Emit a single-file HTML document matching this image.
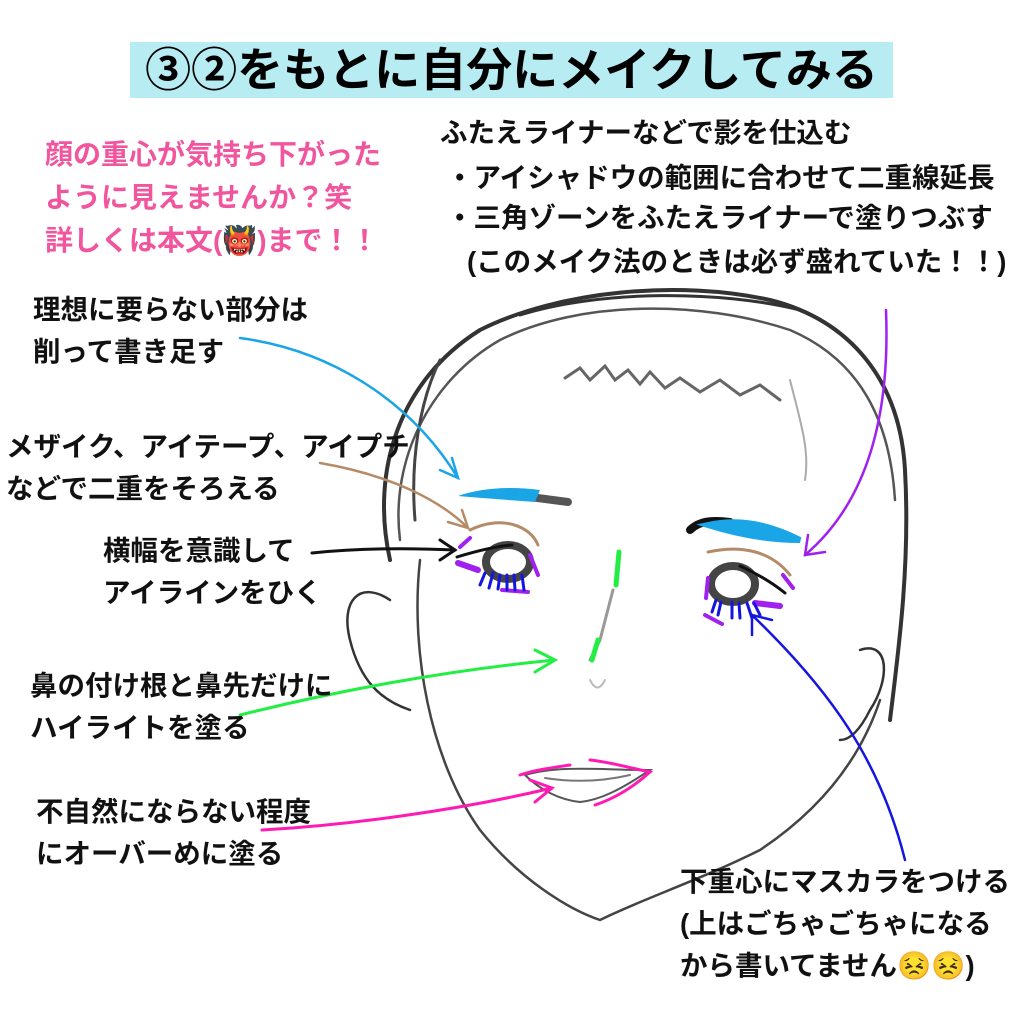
<!DOCTYPE html>
<html><head><meta charset="utf-8"><style>
html,body{margin:0;padding:0;background:#fff;}
body{width:1024px;height:1024px;position:relative;overflow:hidden;font-family:"Liberation Sans","Noto Sans CJK JP",sans-serif;font-weight:bold;}
.t{position:absolute;white-space:nowrap;color:#111;font-size:27.5px;line-height:42px;}
.title{position:absolute;left:130px;top:42px;width:763px;height:56px;background:#b6ecf2;font-size:46px;line-height:56px;text-align:center;color:#000;}
.pink{color:#f0559e;font-size:28px;line-height:43px;}
svg{position:absolute;left:0;top:0;}
</style></head><body>
<svg width="1024" height="1024" viewBox="0 0 1024 1024">
<g fill="none" stroke="#333" stroke-linecap="round">
<path d="M390 560 C370 470 400 380 480 330 C560 290 680 280 770 300 C850 320 900 380 905 470 C910 560 900 640 890 720" stroke-width="4"/>
<path d="M400 540 C390 460 430 380 500 340 C580 300 700 300 790 330 C860 360 890 420 895 500" stroke-width="2.5" stroke="#555"/>
<path d="M520 315 C600 290 720 290 800 310" stroke-width="3"/>
<path d="M440 360 C420 400 410 460 415 520" stroke-width="3" stroke="#444"/>
<path d="M420 560 C410 650 430 760 480 830 C520 880 570 910 600 920 C640 900 700 880 760 850 C820 810 860 760 880 700" stroke-width="2.5" stroke="#444"/>
<path d="M390 600 C360 580 340 600 350 640 C360 680 380 700 410 710" stroke-width="2.5"/>
<path d="M860 650 C890 640 890 680 870 710 C860 730 850 740 840 740" stroke-width="2.5"/>
<path d="M565 378 L580 368 L590 380 L605 366 L615 380 L628 370 L640 384 L650 372 L665 388 L680 378 L700 392 L720 380 L740 395 L760 385 L780 400" stroke-width="3" stroke="#666"/>
<path d="M790 380 C800 420 810 450 805 480" stroke-width="2" stroke="#aaa"/>
<path d="M613 590 L600 640 L590 660" stroke-width="3" stroke="#999"/>
<path d="M590 680 C595 690 600 690 605 680" stroke-width="2" stroke="#bbb"/>
<ellipse cx="508" cy="562" rx="22" ry="17" stroke-width="8" stroke="#444"/>
<ellipse cx="733" cy="584" rx="22" ry="18" stroke-width="8" stroke="#444"/>
<path d="M525 775 C560 765 600 770 650 770 C620 790 600 800 580 802 C560 800 540 790 525 775" stroke-width="2" stroke="#555"/>
<path d="M545 778 C570 782 600 782 630 775" stroke-width="2" stroke="#777"/>
<path d="M530 497 L568 502" stroke-width="8" stroke="#555"/>
<path d="M690 530 C700 520 715 520 730 522" stroke-width="8" stroke="#111"/>
</g>
<path d="M458 496 C480 488 510 486 540 490 L535 502 C510 500 480 498 458 496Z" fill="#1aa5e6"/>
<path d="M708 525 C740 518 770 525 800 540 C770 540 740 535 708 525Z" fill="#1aa5e6" stroke="#1aa5e6" stroke-width="6"/>
<g fill="none" stroke-linecap="round">
<path d="M470 530 C500 515 530 525 538 545" stroke="#b58b67" stroke-width="3"/>
<path d="M708 552 C740 545 770 550 790 575" stroke="#b58b67" stroke-width="3"/>
<path d="M457 557 C480 550 500 546 512 545" stroke="#111" stroke-width="3"/>
<path d="M740 566 C760 575 775 585 785 593" stroke="#111" stroke-width="3"/>
<path d="M460 547 L470 538" stroke="#a020f0" stroke-width="4"/>
<path d="M458 563 L478 570" stroke="#a020f0" stroke-width="6"/>
<path d="M530 555 L538 575" stroke="#a020f0" stroke-width="4"/>
<path d="M502 590 L528 592" stroke="#a020f0" stroke-width="4"/>
<path d="M708 578 L706 598" stroke="#a020f0" stroke-width="4"/>
<path d="M783 575 L793 588" stroke="#a020f0" stroke-width="4"/>
<path d="M755 603 L780 606" stroke="#a020f0" stroke-width="6"/>
<path d="M705 615 L722 624" stroke="#a020f0" stroke-width="4"/>
<g stroke="#1515e0" stroke-width="3">
<path d="M485 573 L480 585"/><path d="M493 573 L489 588"/><path d="M500 575 L498 589"/><path d="M507 575 L507 590"/><path d="M514 575 L515 590"/><path d="M522 575 L524 590"/>
<path d="M716 600 L712 612"/><path d="M721 602 L718 615"/><path d="M732 602 L732 618"/><path d="M739 603 L740 618"/><path d="M747 603 L752 618"/><path d="M754 603 L760 615"/>
</g>
<path d="M619 552 L616 585" stroke="#22ee44" stroke-width="5"/>
<path d="M598 640 L592 660" stroke="#22ee44" stroke-width="5"/>
<path d="M520 775 C535 770 550 768 570 765" stroke="#ff1ab3" stroke-width="3"/>
<path d="M590 760 C610 762 630 768 650 772 C630 790 610 800 595 805" stroke="#ff1ab3" stroke-width="3"/>
<path d="M240 338 C330 350 410 400 458 478" stroke="#1aa5e6" stroke-width="2.5"/>
<path d="M440 470 L458 478 L452 458" stroke="#1aa5e6" stroke-width="2.5"/>
<path d="M320 463 C390 475 440 500 468 528" stroke="#b58b67" stroke-width="2.5"/>
<path d="M448 522 L468 528 L462 510" stroke="#b58b67" stroke-width="2.5"/>
<path d="M312 553 C360 548 410 548 455 550" stroke="#111" stroke-width="3"/>
<path d="M440 540 L455 550 L440 560" stroke="#111" stroke-width="3"/>
<path d="M240 715 C340 690 450 670 555 660" stroke="#22ee44" stroke-width="3"/>
<path d="M535 650 L555 660 L535 672" stroke="#22ee44" stroke-width="3"/>
<path d="M262 830 C350 825 460 810 552 788" stroke="#ff1ab3" stroke-width="3"/>
<path d="M530 780 L552 788 L535 802" stroke="#ff1ab3" stroke-width="3"/>
<path d="M886 310 C890 410 870 500 805 555" stroke="#a020f0" stroke-width="2.5"/>
<path d="M808 535 L805 555 L825 552" stroke="#a020f0" stroke-width="2.5"/>
<path d="M905 860 C880 760 830 690 752 615" stroke="#1515e0" stroke-width="2.5"/>
<path d="M752 635 L752 615 L772 620" stroke="#1515e0" stroke-width="2.5"/>
</g>
</svg>
<div class="title">③②をもとに自分にメイクしてみる</div>
<div class="t pink" style="left:45px;top:133px;">顔の重心が気持ち下がった<br>ように見えませんか？笑<br>詳しくは本文(👹)まで！！</div>
<div class="t" style="left:440px;top:112px;">ふたえライナーなどで影を仕込む</div>
<div class="t" style="left:446px;top:157px;">・アイシャドウの範囲に合わせて二重線延長</div>
<div class="t" style="left:446px;top:197px;">・三角ゾーンをふたえライナーで塗りつぶす</div>
<div class="t" style="left:467px;top:241px;">(このメイク法のときは必ず盛れていた！！)</div>
<div class="t" style="left:33px;top:289px;">理想に要らない部分は<br>削って書き足す</div>
<div class="t" style="left:6px;top:426px;">メザイク、アイテープ、アイプチ<br>などで二重をそろえる</div>
<div class="t" style="left:103px;top:530px;">横幅を意識して<br>アイラインをひく</div>
<div class="t" style="left:30px;top:665px;">鼻の付け根と鼻先だけに<br>ハイライトを塗る</div>
<div class="t" style="left:36px;top:791px;">不自然にならない程度<br>にオーバーめに塗る</div>
<div class="t" style="left:680px;top:861px;">下重心にマスカラをつける<br>(上はごちゃごちゃになる<br>から書いてません😣😣)</div>
</body></html>
